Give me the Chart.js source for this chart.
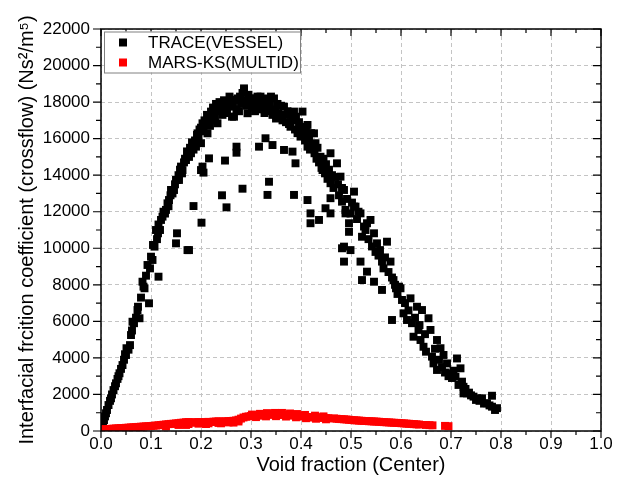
<!DOCTYPE html>
<html>
<head>
<meta charset="utf-8">
<script src="https://cdn.jsdelivr.net/npm/chart.js@4.4.1/dist/chart.umd.min.js"></script>
<style>
  html, body { margin: 0; padding: 0; background: #fff; }
  #wrap { width: 620px; height: 499px; }
</style>
</head>
<body>
<div id="wrap"><canvas id="chart" width="620" height="499"></canvas></div>
<script>
// Tick values
var xTicks = [0, 0.1, 0.2, 0.3, 0.4, 0.5, 0.6, 0.7, 0.8, 0.9, 1.0];
var yTicks = [0, 2000, 4000, 6000, 8000, 10000, 12000, 14000, 16000, 18000, 20000, 22000];

// TRACE(VESSEL) points
var traceX = [
  0.002, 0.004, 0.006, 0.008, 0.010, 0.012, 0.015, 0.018, 0.020, 0.022, 0.025, 0.028, 0.030, 0.033, 0.035, 0.037,
  0.040, 0.043, 0.046, 0.048, 0.050, 0.051, 0.055, 0.058, 0.060, 0.062, 0.063, 0.066, 0.070, 0.073, 0.074, 0.077,
  0.080, 0.083, 0.085, 0.087, 0.090, 0.093, 0.096, 0.098, 0.100, 0.103, 0.104, 0.107, 0.110, 0.112, 0.115, 0.114,
  0.115, 0.118, 0.120, 0.123, 0.125, 0.128, 0.130, 0.133, 0.135, 0.136, 0.139, 0.140, 0.143, 0.146, 0.148, 0.150,
  0.153, 0.155, 0.156, 0.158, 0.160, 0.162, 0.163, 0.166, 0.168, 0.170, 0.172, 0.173, 0.176, 0.178, 0.180, 0.182,
  0.185, 0.188, 0.190, 0.192, 0.193, 0.195, 0.197, 0.200, 0.200, 0.203, 0.205, 0.207, 0.210, 0.212, 0.213, 0.216,
  0.218, 0.220, 0.222, 0.224, 0.226, 0.228, 0.230, 0.233, 0.235, 0.237, 0.240, 0.240, 0.243, 0.246, 0.249, 0.252,
  0.255, 0.257, 0.259, 0.262, 0.264, 0.266, 0.269, 0.271, 0.273, 0.276, 0.278, 0.280, 0.283, 0.286, 0.286, 0.288,
  0.291, 0.293, 0.295, 0.297, 0.299,
  0.302, 0.305, 0.308, 0.310, 0.313, 0.315, 0.318, 0.319, 0.322, 0.325, 0.327, 0.330, 0.333, 0.335, 0.338, 0.340,
  0.343, 0.346, 0.348, 0.350, 0.353, 0.355, 0.359, 0.360, 0.363, 0.366, 0.368, 0.370, 0.373, 0.376, 0.379, 0.380,
  0.383, 0.386, 0.388, 0.390, 0.393, 0.396, 0.399, 0.401, 0.403, 0.405, 0.406, 0.408, 0.410, 0.413, 0.413, 0.416,
  0.418, 0.420, 0.423, 0.426, 0.427, 0.429, 0.431, 0.433, 0.436, 0.439, 0.441, 0.443, 0.445, 0.448, 0.450, 0.453,
  0.456, 0.459, 0.459, 0.462, 0.465, 0.468, 0.472, 0.474, 0.476, 0.479, 0.482, 0.486, 0.489, 0.492, 0.496, 0.499,
  0.502, 0.506, 0.506, 0.509, 0.512, 0.515, 0.519, 0.522, 0.526, 0.529, 0.532, 0.535, 0.539, 0.542, 0.546, 0.549,
  0.552, 0.555, 0.558, 0.562, 0.565, 0.568, 0.572, 0.575, 0.579, 0.582, 0.585, 0.588, 0.590, 0.593, 0.596, 0.599,
  0.602, 0.605, 0.608, 0.612, 0.615, 0.619, 0.622, 0.625, 0.628, 0.632, 0.635, 0.637, 0.639, 0.642, 0.645, 0.648,
  0.650, 0.655, 0.659, 0.662, 0.665, 0.668, 0.672, 0.672, 0.676, 0.679, 0.682, 0.685, 0.688, 0.692, 0.695, 0.699,
  0.702, 0.705, 0.709, 0.712, 0.715, 0.719, 0.722, 0.725, 0.725, 0.729, 0.732, 0.736, 0.740, 0.745, 0.750, 0.752,
  0.757, 0.762, 0.766, 0.772, 0.777, 0.782, 0.782, 0.788, 0.792,
  0.152, 0.150, 0.176, 0.173, 0.185, 0.201, 0.200, 0.203, 0.205, 0.216, 0.242, 0.248, 0.251, 0.271, 0.271, 0.283,
  0.316, 0.329, 0.343, 0.336, 0.333, 0.366, 0.383, 0.389, 0.386, 0.413, 0.419, 0.419, 0.436, 0.449, 0.459, 0.459,
  0.482, 0.489, 0.496, 0.482, 0.486, 0.499, 0.486, 0.519, 0.532, 0.522, 0.546, 0.562, 0.582
];
var traceY = [
  100, 330, 600, 800, 970, 1150, 1420, 1650, 1790, 2000, 2240, 2450, 2610, 2850, 3000, 3160,
  3400, 3610, 3900, 4200, 4160, 4530, 4450, 4700, 5250, 5500, 5980, 5900, 6200, 6620, 6800, 6170,
  7300, 8170, 7900, 7810, 8500, 9085, 6990, 8900, 9540, 9360, 10180, 10090, 11000, 10500, 8445, 10820,
  11300, 11000, 11550, 11730, 12000, 11900, 12100, 12460, 12300, 12640, 12900, 13190, 13000, 13190, 13500, 13740,
  13740, 14000, 13740, 14300, 14470, 14100, 14280, 14700, 14900, 14830, 15300, 15100, 15000, 15500, 15200, 15800,
  15400, 15900, 15560, 16200, 16290, 16000, 16500, 15750, 16600, 16840, 16400, 17000, 16800, 17300, 16290, 17200,
  16700, 17480, 17000, 17700, 17570, 17200, 17900, 16840, 17500, 18000, 17930, 17840, 17300, 18100, 17700, 17400,
  18000, 18300, 17750, 17200, 17900, 17200, 18120, 17600, 18200, 17500, 18300, 17900, 18500, 18660, 18750, 18100,
  17800, 17390, 18400, 17900, 18200,
  17700, 18100, 17500, 18200, 18300, 17800, 18000, 18300, 17600, 18100, 17400, 17900, 18200, 17500, 17800, 18300,
  17300, 18200, 17600, 17100, 17900, 17400, 17200, 17800, 17000, 17750, 17300, 16900, 17500, 16800, 16650, 17300,
  17000, 17480, 16500, 17200, 16300, 16900, 16110, 16600, 17480, 16200, 16650, 15900, 16400, 16750, 15560, 16000,
  15400, 16300, 15600, 16290, 15200, 15750, 14900, 15500, 14700, 15010, 14400, 14280, 14900, 14100, 14600, 13800,
  14300, 15200, 13560, 14000, 13300, 13900, 14650, 13500, 12900, 13920, 13300, 13190, 12100, 12700, 11370, 11900,
  12500, 13100, 12280, 12280, 11600, 12000, 11910, 10630, 11190, 11000, 11370, 10500, 11550, 10100, 10820, 9800,
  10270, 9600, 9900, 9270, 8900, 9500, 10360, 8700, 9270, 8400, 8260, 8000, 7810, 7500, 7900, 7810,
  7170, 6440, 7000, 6075, 6600, 7260, 5900, 5160, 6200, 6800, 5530, 5800, 4980, 6620, 4610, 5300,
  4340, 6170, 5530, 4070, 3700, 4500, 4980, 3340, 3900, 4530, 3500, 4160, 3200, 3700, 3000, 3160,
  2900, 3300, 2970, 3970, 2520, 3430, 2700, 2420, 2060, 2300, 2060, 2100, 1950, 1880, 1700, 1790,
  1650, 1790, 1500, 1520, 1400, 1930, 1330, 1150, 1250,
  10820, 10270, 9900, 9900, 12310, 11400, 14280, 14470, 14140, 14920, 12900, 14800, 12240, 15560, 15230, 13260,
  15560, 16020, 15650, 13640, 12920, 15380, 15290, 14650, 12920, 12640, 11910, 11370, 11550, 12190, 12740, 11910,
  12550, 11910, 10900, 10000, 10090, 9900, 9270, 9270, 8720, 8260, 8170, 7720, 6075
];

// MARS-KS(MULTID) points
var marsX = [
  0.000, 0.005, 0.010, 0.015, 0.020, 0.025, 0.030, 0.035, 0.040, 0.045, 0.050, 0.055, 0.060, 0.065, 0.070, 0.075,
  0.080, 0.085, 0.090, 0.095, 0.100, 0.105, 0.110, 0.115, 0.120, 0.125, 0.130, 0.135, 0.140, 0.145, 0.150, 0.155,
  0.160, 0.165, 0.170, 0.175, 0.180, 0.185, 0.190, 0.195, 0.200, 0.205, 0.210, 0.215, 0.220, 0.225, 0.230, 0.235,
  0.240, 0.245, 0.250, 0.255, 0.260, 0.265, 0.270, 0.275, 0.280, 0.285, 0.290, 0.295, 0.300, 0.305, 0.310, 0.315,
  0.320, 0.325, 0.330, 0.335, 0.340, 0.345, 0.350, 0.355, 0.360, 0.365, 0.370, 0.375, 0.380, 0.385, 0.390, 0.395,
  0.400, 0.405, 0.410, 0.415, 0.420, 0.425, 0.430, 0.435, 0.440, 0.445, 0.450, 0.455,
  0.466, 0.471, 0.476, 0.481, 0.486, 0.491, 0.496, 0.501, 0.506, 0.511, 0.516, 0.521, 0.526, 0.531, 0.536, 0.541,
  0.546, 0.551, 0.556, 0.561, 0.566, 0.571, 0.576, 0.581, 0.586, 0.591, 0.596, 0.601, 0.606, 0.611, 0.616, 0.621,
  0.626, 0.631, 0.636, 0.650, 0.657, 0.663, 0.688, 0.695,
  0.130, 0.155, 0.170, 0.175, 0.195, 0.210, 0.215, 0.235, 0.240, 0.255, 0.265, 0.275,
  0.302, 0.310, 0.318, 0.330, 0.332, 0.348, 0.350, 0.362, 0.370, 0.378, 0.390, 0.392, 0.408, 0.410, 0.428, 0.430,
  0.445, 0.450
];
var marsY = [
  80, 90, 100, 110, 120, 130, 140, 150, 160, 165, 175, 185, 195, 205, 215, 225,
  235, 245, 255, 262, 270, 285, 300, 315, 330, 345, 360, 375, 390, 400, 415, 430,
  450, 460, 480, 490, 470, 460, 480, 490, 480, 460, 490, 500, 490, 510, 520, 530,
  510, 520, 530, 540, 550, 560, 580, 620, 680, 740, 780, 800, 820, 830, 850, 840,
  870, 880, 890, 900, 890, 910, 900, 890, 910, 880, 870, 860, 870, 850, 830, 820,
  810, 790, 770, 760, 740, 760, 750, 740, 730, 720, 710, 700,
  690, 670, 660, 650, 640, 630, 615, 600, 590, 580, 570, 560, 550, 545, 535, 530,
  520, 515, 505, 495, 485, 475, 470, 460, 450, 445, 435, 425, 415, 405, 395, 385,
  375, 365, 355, 330, 320, 310, 280, 265,
  250, 330, 330, 380, 400, 380, 420, 440, 420, 470, 460, 520,
  900, 760, 940, 800, 980, 990, 810, 990, 790, 960, 750, 930, 880, 700, 840, 670,
  800, 640
];

function zip(xs, ys) {
  return xs.map(function(x, i) { return { x: x, y: ys[i] }; });
}

var FONT = '"Liberation Sans", Arial, sans-serif';

// frame, mirrored ticks and boxed legend, drawn by hand like Origin does
var framePlugin = {
  id: 'frame',
  afterDraw: function(chart) {
    var ctx = chart.ctx, a = chart.chartArea;
    var xs = chart.scales.x, ys = chart.scales.y;
    ctx.save();
    ctx.strokeStyle = '#000';
    ctx.lineWidth = 1.5;
    ctx.strokeRect(a.left, a.top, a.right - a.left, a.bottom - a.top);

    ctx.lineWidth = 1.2;
    ctx.beginPath();
    xTicks.forEach(function(v, i) {
      var p = xs.getPixelForValue(v);
      ctx.moveTo(p, a.bottom); ctx.lineTo(p, a.bottom + 7);
      ctx.moveTo(p, a.top); ctx.lineTo(p, a.top + 7);
      if (i < xTicks.length - 1) {
        var m = xs.getPixelForValue((v + xTicks[i + 1]) / 2);
        ctx.moveTo(m, a.bottom); ctx.lineTo(m, a.bottom + 4);
        ctx.moveTo(m, a.top); ctx.lineTo(m, a.top + 4);
      }
    });
    yTicks.forEach(function(v, i) {
      var p = ys.getPixelForValue(v);
      ctx.moveTo(a.left, p); ctx.lineTo(a.left - 8, p);
      ctx.moveTo(a.right, p); ctx.lineTo(a.right - 8, p);
      if (i < yTicks.length - 1) {
        var m = ys.getPixelForValue((v + yTicks[i + 1]) / 2);
        ctx.moveTo(a.left, m); ctx.lineTo(a.left - 5, m);
        ctx.moveTo(a.right, m); ctx.lineTo(a.right - 5, m);
      }
    });
    ctx.stroke();

    // legend box
    var bx = a.left + 3, by = a.top + 2.5, bw = 196, bh = 41;
    ctx.fillStyle = '#fff';
    ctx.fillRect(bx, by, bw, bh);
    ctx.strokeStyle = '#808080';
    ctx.lineWidth = 1;
    ctx.strokeRect(bx + 0.5, by + 0.5, bw, bh);
    ctx.font = '17px ' + FONT;
    ctx.textBaseline = 'middle';
    chart.data.datasets.forEach(function(ds, i) {
      var cy = by + 11 + i * 20;
      ctx.fillStyle = ds.backgroundColor;
      ctx.fillRect(bx + 15, cy - 4, 8, 8);
      ctx.fillStyle = '#000';
      ctx.fillText(ds.label, bx + 44, cy + 1);
    });
    ctx.restore();
  }
};

new Chart(document.getElementById('chart'), {
  type: 'scatter',
  data: {
    datasets: [{
      label: 'TRACE(VESSEL)',
      data: zip(traceX, traceY),
      backgroundColor: '#000000',
      borderWidth: 0,
      pointStyle: 'rect',
      pointRadius: 5.6,
      order: 2
    }, {
      label: 'MARS-KS(MULTID)',
      data: zip(marsX, marsY),
      backgroundColor: '#ff0000',
      borderWidth: 0,
      pointStyle: 'rect',
      pointRadius: 5.6,
      order: 1
    }]
  },
  options: {
    responsive: false,
    animation: false,
    devicePixelRatio: 1,
    layout: { padding: { top: 29, right: 19, left: 0, bottom: 0 } },
    plugins: { legend: { display: false }, tooltip: { enabled: false } },
    scales: {
      x: {
        type: 'linear', min: 0, max: 1,
        afterBuildTicks: function(s) { s.ticks = xTicks.map(function(v) { return { value: v }; }); },
        afterFit: function(s) { s.height = 68; },
        ticks: {
          color: '#000', padding: 3,
          font: { family: FONT, size: 17 },
          callback: function(v) { return Number(v).toFixed(1); }
        },
        grid: { color: '#c4c4c4', lineWidth: 1, drawTicks: false },
        border: { display: false, dash: [4, 3] },
        title: {
          display: true, text: 'Void fraction (Center)', color: '#000',
          font: { family: FONT, size: 20 }, padding: { top: 0, bottom: 22 }
        }
      },
      y: {
        type: 'linear', min: 0, max: 22000,
        afterBuildTicks: function(s) { s.ticks = yTicks.map(function(v) { return { value: v }; }); },
        afterFit: function(s) { s.width = 101; },
        ticks: {
          color: '#000', padding: 11,
          font: { family: FONT, size: 17 },
          callback: function(v) { return String(v); }
        },
        grid: { color: '#c4c4c4', lineWidth: 1, drawTicks: false },
        border: { display: false, dash: [4, 3] },
        title: {
          display: true, text: 'Interfacial frcition coefficient (crossflow) (Ns\u00B2/m\u2075)', color: '#000',
          font: { family: FONT, size: 20 }, padding: { top: 15, bottom: 0 }
        }
      }
    }
  },
  plugins: [framePlugin]
});
</script>
</body>
</html>
